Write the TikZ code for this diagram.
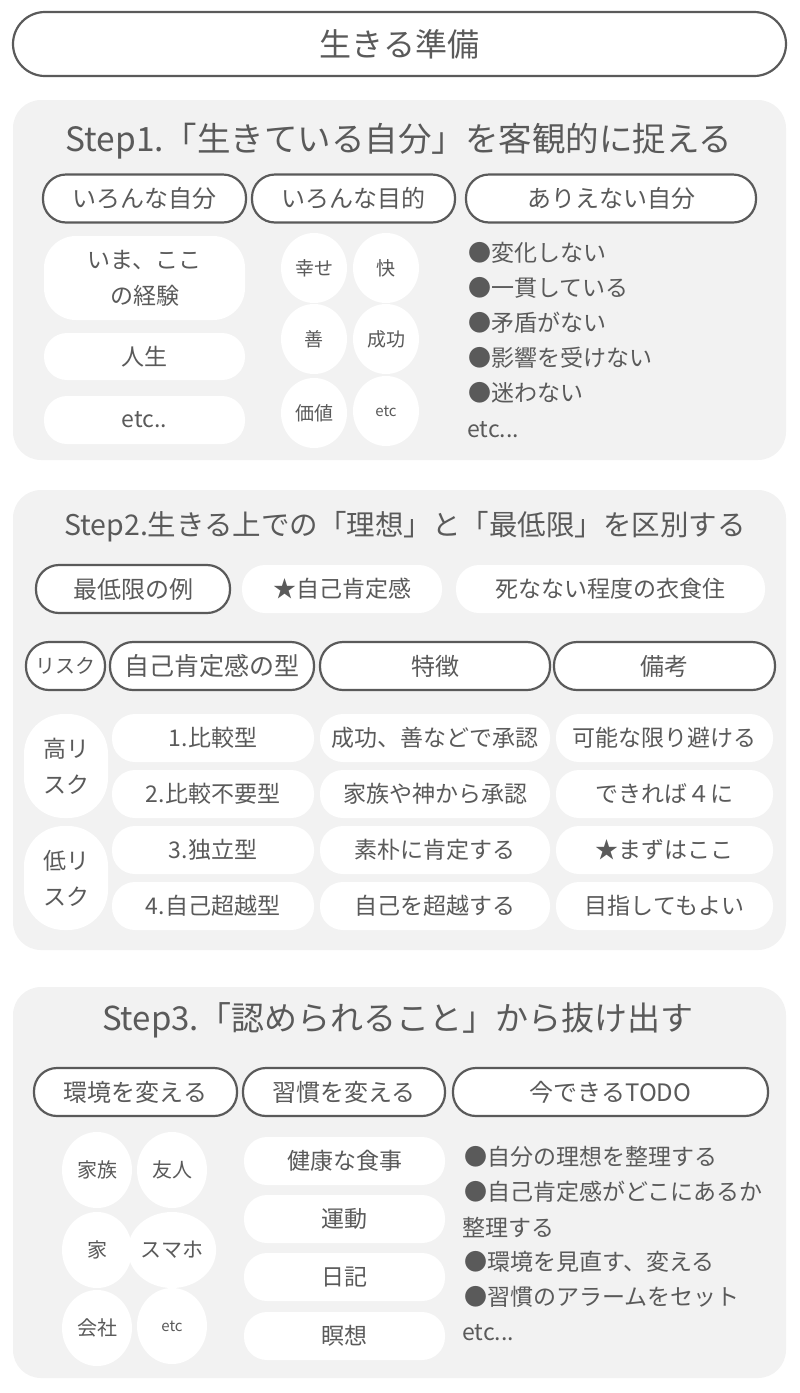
\documentclass[tikz,border=0pt]{standalone}
\usepackage{fontspec}
\setmainfont{Noto Sans CJK JP}
\usetikzlibrary{shapes.geometric}
\definecolor{tg}{HTML}{5A5A5A}
\definecolor{lg}{HTML}{F2F2F2}
\newcommand\fsz[1]{\fontsize{#1}{#1}\selectfont}
\begin{document}
\begin{tikzpicture}[x=1pt,y=-1pt,
  every node/.style={text=tg, inner sep=0pt, align=center},
  outl/.style={draw=tg, line width=2.2pt, fill=white, rounded corners=23pt},
  pill/.style={fill=white, rounded corners=23pt},
  panel/.style={fill=lg, rounded corners=28pt},
  circ/.style={ellipse, fill=white, minimum width=66pt, minimum height=70pt},
  circb/.style={ellipse, fill=white, minimum width=70pt, minimum height=76pt},
  blt/.style={anchor=west, font=\fsz{23}},
  cell/.style={pill, minimum height=48pt, font=\fsz{23}},
  hdr/.style={outl, minimum height=48pt, font=\fsz{24}},
]
\useasboundingbox (0,0) rectangle (800,1393);

% Title
\node[outl, rounded corners=32pt, minimum width=773pt, minimum height=64pt, font=\fsz{32}] (title) at (399.5,44) {生きる準備};

% ---------- Panel 1 ----------
\path[panel] (13,100) rectangle (786,460);
\node[font=\fsz{33.5}] (s1) at (399,141) {Step1.「生きている自分」を客観的に捉える};
\node[hdr, minimum width=203pt] (a1) at (144.5,198.5) {いろんな自分};
\node[hdr, minimum width=203pt] (a2) at (353.5,198.5) {いろんな目的};
\node[hdr, minimum width=290pt] (a3) at (611,198.5) {ありえない自分};

\node[pill, rounded corners=32pt, minimum width=201pt, minimum height=84pt, font=\fontsize{23}{36}\selectfont] (p1) at (144.5,278) {いま、ここ\\の経験};
\node[cell, minimum width=201pt, minimum height=47pt] (p2) at (144.5,356.5) {人生};
\node[cell, minimum width=201pt] (p3) at (144.5,420) {etc..};

\node[circ, font=\fsz{19}] (c1) at (314,268) {幸せ};
\node[circ, font=\fsz{19}] (c2) at (386,268) {快};
\node[circ, font=\fsz{19}] (c3) at (314,339) {善};
\node[circ, font=\fsz{19}] (c4) at (386,339) {成功};
\node[circ, font=\fsz{19}] (c5) at (314,413) {価値};
\node[circ, font=\fsz{15}] (c6) at (386,411) {etc};

\node[blt] (u1) at (468,253) {●変化しない};
\node[blt] (u2) at (468,288) {●一貫している};
\node[blt] (u3) at (468,323) {●矛盾がない};
\node[blt] (u4) at (468,358) {●影響を受けない};
\node[blt] (u5) at (468,393) {●迷わない};
\node[blt] (u6) at (467,430) {etc...};

% ---------- Panel 2 ----------
\path[panel] (13,490) rectangle (786,950);
\node[font=\fsz{28.5}] (s2) at (405,527) {Step2.生きる上での「理想」と「最低限」を区別する};
\node[hdr, minimum width=194pt] (b1) at (133,589) {最低限の例};
\node[cell, minimum width=200pt, font=\fsz{23}] (b2) at (342,589) {★自己肯定感};
\node[cell, minimum width=309pt, font=\fsz{23}] (b3) at (610.5,589) {死なない程度の衣食住};

\node[hdr, minimum width=79pt, font=\fsz{20}] (r0) at (65.5,666) {リスク};
\node[hdr, minimum width=204pt, font=\fsz{25}] (r1) at (212,666) {自己肯定感の型};
\node[hdr, minimum width=230pt] (r2) at (435,666) {特徴};
\node[hdr, minimum width=221pt] (r3) at (664.5,666) {備考};

\node[pill, rounded corners=40pt, minimum width=84pt, minimum height=104pt, font=\fontsize{23}{36}\selectfont] (k1) at (66,766) {高リ\\スク};
\node[pill, rounded corners=40pt, minimum width=84pt, minimum height=104pt, font=\fontsize{23}{36}\selectfont] (k2) at (66,878) {低リ\\スク};

\node[cell, minimum width=202pt] (t11) at (213,738) {1.比較型};
\node[cell, minimum width=230pt] (t12) at (435,738) {成功、善などで承認};
\node[cell, minimum width=217pt] (t13) at (664.5,738) {可能な限り避ける};
\node[cell, minimum width=202pt] (t21) at (213,794) {2.比較不要型};
\node[cell, minimum width=230pt] (t22) at (435,794) {家族や神から承認};
\node[cell, minimum width=217pt] (t23) at (664.5,794) {できれば４に};
\node[cell, minimum width=202pt] (t31) at (213,850) {3.独立型};
\node[cell, minimum width=230pt] (t32) at (435,850) {素朴に肯定する};
\node[cell, minimum width=217pt] (t33) at (664.5,850) {★まずはここ};
\node[cell, minimum width=202pt] (t41) at (213,906) {4.自己超越型};
\node[cell, minimum width=230pt] (t42) at (435,906) {自己を超越する};
\node[cell, minimum width=217pt] (t43) at (664.5,906) {目指してもよい};

% ---------- Panel 3 ----------
\path[panel] (13,987) rectangle (786,1378);
\node[font=\fsz{33}] (s3) at (398,1020) {Step3.「認められること」から抜け出す};
\node[hdr, minimum width=203pt] (d1) at (135.5,1092) {環境を変える};
\node[hdr, minimum width=202pt] (d2) at (344,1092) {習慣を変える};
\node[hdr, minimum width=315pt] (d3) at (610.5,1092) {今できるTODO};

\node[circb, font=\fsz{20}] (e1) at (97,1170) {家族};
\node[circb, font=\fsz{20}] (e2) at (172,1170) {友人};
\node[circb, font=\fsz{20}] (e3) at (97,1250) {家};
\node[circb, font=\fsz{21}] (e4) at (172,1250) {スマホ};
\node[circb, font=\fsz{20}] (e5) at (97,1328) {会社};
\node[circb, font=\fsz{15}] (e6) at (172,1326) {etc};

\node[cell, minimum width=201pt] (m1) at (344.5,1161) {健康な食事};
\node[cell, minimum width=201pt] (m2) at (344.5,1219) {運動};
\node[cell, minimum width=201pt] (m3) at (344.5,1277) {日記};
\node[cell, minimum width=201pt] (m4) at (344.5,1336) {瞑想};

\node[blt] (v1) at (464,1157) {●自分の理想を整理する};
\node[blt] (v2) at (464,1192) {●自己肯定感がどこにあるか};
\node[blt] (v3) at (462,1227) {整理する};
\node[blt] (v4) at (464,1262) {●環境を見直す、変える};
\node[blt] (v5) at (464,1297) {●習慣のアラームをセット};
\node[blt] (v6) at (462,1333) {etc...};
\end{tikzpicture}
\end{document}
